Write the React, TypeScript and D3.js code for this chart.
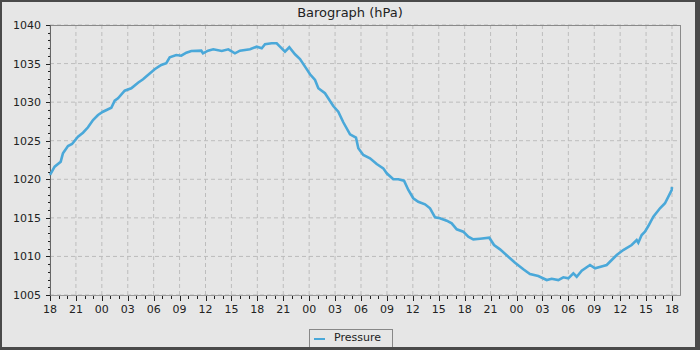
import React from "react";
import * as d3 from "d3";

// Hours since 18:00 on the first day
const hours = [
  0, 0.54, 1.24, 1.5, 2.08, 2.55, 3.24, 3.82, 4.4, 4.98, 5.56, 6.13, 7.1, 7.49, 7.87, 8.65, 9.41, 10.19,
  10.77, 11.34, 12.12, 12.88, 13.46, 13.86, 14.62, 15.2, 15.78, 16.36, 17.51, 17.71, 18.29, 18.9, 19.88,
  20.64, 21.41, 21.99, 23.15, 23.93, 24.51, 24.89, 25.66, 26.24, 26.62, 27.2, 27.7, 28.36, 28.94, 29.52,
  30.1, 30.68, 31.06, 31.83, 32.21, 32.79, 33.37, 33.95, 34.73, 35.42, 35.69, 36.27, 37.04, 37.82, 38.58,
  38.98, 39.74, 40.32, 40.98, 41.48, 42.05, 42.63, 43.41, 43.99, 44.57, 45.14, 45.92, 46.5, 47.08, 47.84,
  48.42, 49.0, 49.78, 50.85, 51.4, 52.09, 53.25, 53.83, 54.79, 55.56, 56.52, 57.5, 58.07, 58.84, 59.42,
  60.0, 60.58, 60.97, 61.55, 62.51, 63.09, 64.05, 64.44, 65.02, 65.6, 66.36, 67.33, 67.91, 68.1, 68.49,
  68.87, 69.26, 69.84, 70.61, 71.19, 71.96, 72.0,
];
const pressure = [
  1020.56, 1021.63, 1022.28, 1023.37, 1024.32, 1024.57, 1025.52, 1026.04, 1026.74, 1027.69, 1028.33,
  1028.76, 1029.28, 1030.19, 1030.5, 1031.48, 1031.8, 1032.52, 1032.96, 1033.52, 1034.26, 1034.82,
  1035.04, 1035.81, 1036.11, 1036.02, 1036.41, 1036.63, 1036.67, 1036.33, 1036.67, 1036.85, 1036.63,
  1036.85, 1036.33, 1036.67, 1036.85, 1037.19, 1036.98, 1037.5, 1037.63, 1037.63, 1037.19, 1036.54,
  1037.11, 1036.2, 1035.59, 1034.6, 1033.61, 1032.87, 1031.8, 1031.15, 1030.5, 1029.5, 1028.76, 1027.39,
  1025.83, 1025.39, 1024.02, 1023.15, 1022.72, 1021.98, 1021.42, 1020.78, 1020.0, 1020.0, 1019.82,
  1018.61, 1017.54, 1017.09, 1016.76, 1016.24, 1015.07, 1014.94, 1014.63, 1014.29, 1013.52, 1013.21,
  1012.56, 1012.22, 1012.3, 1012.43, 1011.48, 1010.92, 1009.76, 1009.19, 1008.33, 1007.72, 1007.46,
  1006.94, 1007.11, 1006.94, 1007.29, 1007.16, 1007.81, 1007.37, 1008.15, 1008.89, 1008.46, 1008.76,
  1008.89, 1009.54, 1010.19, 1010.83, 1011.48, 1012.13, 1011.78, 1012.78, 1013.21, 1013.94, 1015.15,
  1016.24, 1016.89, 1018.61, 1019.0,
];
const startHour = 18;
const xMajorTicks = d3.range(0, 73, 3);
const xMinorTicks = d3.range(0, 73, 1);
const yMajorTicks = [1005, 1010, 1015, 1020, 1025, 1030, 1035, 1040];
const yMinorTicks = d3.range(1005, 1041, 1);
const title = "Barograph (hPa)";
const seriesName = "Pressure";

const W = 700;
const H = 350;
const plot = { left: 50, top: 25, right: 680, bottom: 295 };
const font = "'DejaVu Sans', sans-serif";
const lineColor = "#4aa8d9";

export default function App() {
  const x = d3.scaleLinear().domain([0, 72]).range([plot.left, 672]);
  const y = d3.scaleLinear().domain([1005, 1040]).range([plot.bottom, plot.top]);
  const data = hours.map((h, i) => [h, pressure[i]] as [number, number]);
  const line = d3
    .line<[number, number]>()
    .x((d) => x(d[0]))
    .y((d) => y(d[1]));
  const fmt = (h: number) => String((startHour + h) % 24).padStart(2, "0");

  return (
    <svg
      width={W}
      height={H}
      style={{ position: "absolute", left: 0, top: 0, display: "block" }}
      fontFamily={font}
    >
      <rect x={0} y={0} width={W} height={H} fill="#e6e6e6" />
      <text x={350} y={17} textAnchor="middle" fontSize={13} fill="#222">
        {title}
      </text>
      {/* grid */}
      {xMajorTicks.map((t) => (
        <line
          key={"gx" + t}
          x1={x(t)}
          x2={x(t)}
          y1={plot.top}
          y2={plot.bottom}
          stroke="#bdbdbd"
          strokeDasharray="4,3"
        />
      ))}
      {yMajorTicks.map((t) => (
        <line
          key={"gy" + t}
          x1={plot.left}
          x2={plot.right}
          y1={y(t)}
          y2={y(t)}
          stroke="#bdbdbd"
          strokeDasharray="4,3"
        />
      ))}
      {/* frame */}
      <line x1={plot.left} x2={plot.right} y1={plot.top + 0.5} y2={plot.top + 0.5} stroke="#8a8a8a" />
      <line x1={plot.right + 0.5} x2={plot.right + 0.5} y1={plot.top} y2={plot.bottom} stroke="#8a8a8a" />
      <line x1={plot.left} x2={plot.right + 1} y1={plot.bottom + 0.5} y2={plot.bottom + 0.5} stroke="#999" />
      <line x1={plot.left + 0.5} x2={plot.left + 0.5} y1={plot.top} y2={plot.bottom + 1} stroke="#666" />
      {/* data */}
      <path d={line(data) || ""} fill="none" stroke={lineColor} strokeWidth={2.6} strokeLinejoin="miter" />
      {/* y ticks */}
      {yMinorTicks.map((t) => (
        <line
          key={"ym" + t}
          x1={plot.left - 2}
          x2={plot.left}
          y1={Math.round(y(t)) + 0.5}
          y2={Math.round(y(t)) + 0.5}
          stroke="#222"
        />
      ))}
      {yMajorTicks.map((t) => (
        <g key={"yt" + t}>
          <line
            x1={plot.left - 4}
            x2={plot.left}
            y1={Math.round(y(t)) + 0.5}
            y2={Math.round(y(t)) + 0.5}
            stroke="#222"
          />
          <text x={41} y={y(t) + 4} textAnchor="end" fontSize={11} fill="#222">
            {t}
          </text>
        </g>
      ))}
      {/* x ticks */}
      {xMinorTicks.map((t) => (
        <line
          key={"xm" + t}
          x1={Math.round(x(t)) + 0.5}
          x2={Math.round(x(t)) + 0.5}
          y1={plot.bottom + 1}
          y2={plot.bottom + 4}
          stroke="#222"
        />
      ))}
      {xMajorTicks.map((t) => (
        <g key={"xt" + t}>
          <line
            x1={Math.round(x(t)) + 0.5}
            x2={Math.round(x(t)) + 0.5}
            y1={plot.bottom + 1}
            y2={plot.bottom + 6}
            stroke="#222"
          />
          <text x={x(t)} y={313} textAnchor="middle" fontSize={11} fill="#222">
            {fmt(t)}
          </text>
        </g>
      ))}
      {/* legend */}
      <rect x={309.5} y={329.5} width={83} height={20} fill="none" stroke="#888" />
      <line x1={314} x2={325} y1={339} y2={339} stroke={lineColor} strokeWidth={2} />
      <text x={334} y={341} fontSize={11} fill="#222">
        {seriesName}
      </text>
      {/* outer border */}
      <rect x={0} y={0} width={W} height={2} fill="#4a4a4a" />
      <rect x={0} y={0} width={2} height={H} fill="#4a4a4a" />
      <rect x={0} y={347} width={W} height={3} fill="#4a4a4a" />
      <rect x={695} y={0} width={5} height={H} fill="#4a4a4a" />
    </svg>
  );
}
